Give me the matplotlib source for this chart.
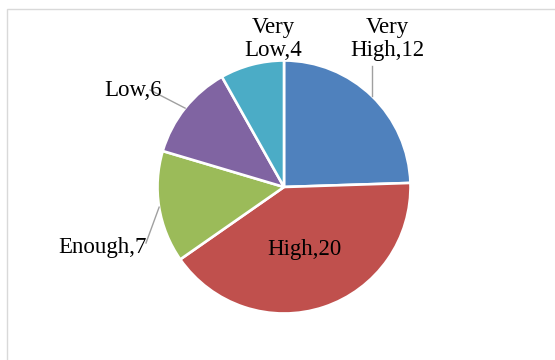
import numpy as np
import matplotlib; matplotlib.use("Agg")
import matplotlib.pyplot as plt
from matplotlib.patches import Rectangle

plt.rcParams.update({"font.family": ["Liberation Serif", "DejaVu Serif"], "font.size": 16.5})

categories = ["Very High", "High", "Enough", "Low", "Very Low"]
values = [12, 20, 7, 6, 4]
colors = ["#4F81BD", "#C0504D", "#9BBB59", "#8064A2", "#4BACC6"]

W, H = 555, 360
fig = plt.figure(figsize=(W / 100, H / 100), dpi=100)
ax = fig.add_axes([0, 0, 1, 1])
py = lambda y: H - y  # pixel row -> data y

# outer chart frame (runs off the right/bottom edge)
ax.add_patch(Rectangle((7, -20), W, py(9) + 20, fill=False, ec="#d9d9d9", lw=1))

cx, cy, r = 284, py(187), 126.5
wedges, _ = ax.pie(values, colors=colors, startangle=90, counterclock=False,
                   center=(cx, cy), radius=r, frame=True,
                   wedgeprops=dict(edgecolor="white", linewidth=1.9))
ax.set_xlim(0, W); ax.set_ylim(0, H); ax.set_aspect("equal"); ax.axis("off")

# label text positions (pixel coords) and leader line end (None = keep x of wedge edge)
label_pos = {"Very High": (387, 39), "High": (304, 249), "Enough": (102, 248),
             "Low": (133, 90), "Very Low": (273, 39)}
leader_end = {"Very High": (None, 66), "Enough": (146, 243), "Low": (150, 90)}
two_line = {"Very High", "Very Low"}

for w, cat, v in zip(wedges, categories, values):
    lx, ly = label_pos[cat]
    txt = f"{cat.replace(' ', chr(10))},{v}" if cat in two_line else f"{cat},{v}"
    if cat in leader_end:
        mid = np.deg2rad((w.theta1 + w.theta2) / 2)
        ex, ey = cx + r * np.cos(mid), cy + r * np.sin(mid)
        tx, ty = leader_end[cat]
        tx = ex if tx is None else tx
        ax.plot([ex, tx], [ey, py(ty)], color="#a0a0a0", lw=1, zorder=1.5)
    ax.text(lx, py(ly), txt, ha="center", va="center", linespacing=1.1, color="black", zorder=3)

fig.savefig("out.png", dpi=100)
